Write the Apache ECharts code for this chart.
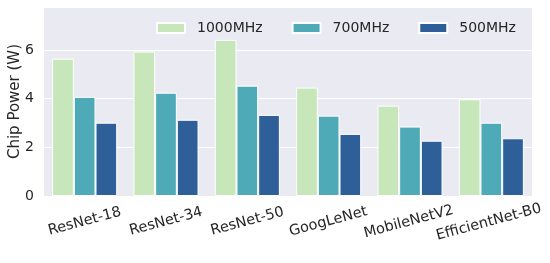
<!DOCTYPE html>
<html><head><meta charset="utf-8">
<script src="https://cdn.jsdelivr.net/npm/echarts@6/dist/echarts.min.js"></script>
<style>html,body{margin:0;padding:0;background:#fff}#c{width:550px;height:263px}</style>
</head><body><div id="c"></div>
<script>
const categories = ["ResNet-18","ResNet-34","ResNet-50","GoogLeNet","MobileNetV2","EfficientNet-B0"];
const seriesNames = ["1000MHz","700MHz","500MHz"];
const mhz1000 = [5.64, 5.93, 6.41, 4.45, 3.71, 3.97];
const mhz700 = [4.07, 4.24, 4.53, 3.30, 2.85, 3.01];
const mhz500 = [3.01, 3.13, 3.33, 2.55, 2.27, 2.37];
const yTicks = [0, 2, 4, 6];
const colors = ["#c7e6b9", "#4eaab6", "#2e5f99"];
const values = [mhz1000, mhz700, mhz500];

const font = "DejaVu Sans";
const labelSize = 14.5, rot = 15;
// emulate matplotlib's rotated-label placement: longer labels sit slightly lower
const mctx = document.createElement('canvas').getContext('2d');
mctx.font = labelSize + 'px "' + font + '"';
const widths = categories.map(c => mctx.measureText(c).width);
const wmin = Math.min.apply(null, widths);
const th = rot * Math.PI / 180;
const xData = categories.map((c, i) => {
  const dy = 0.3 * (widths[i] - wmin);
  return {value: c, textStyle: {align:'center', verticalAlign:'middle',
    padding: [2 * dy * Math.cos(th), 2 * dy * Math.sin(th), 0, 0]}};
});

const chart = echarts.init(document.getElementById('c'), null, {renderer:'canvas'});
chart.setOption({
  animation:false,
  textStyle:{fontFamily:font},
  grid:{left:44,right:18,top:7,bottom:67,show:true,backgroundColor:'#eaeaf2',borderWidth:0,
        containLabel:false, outerBoundsMode:'none'},
  legend:{
    data:seriesNames, left:151, top:16, itemWidth:28, itemHeight:10, itemGap:29,
    icon:'rect',
    textStyle:{fontFamily:font,fontSize:14,color:'#262626',padding:[0,0,0,7]}
  },
  xAxis:{
    type:'category', data:xData,
    axisLine:{show:false}, axisTick:{show:false},
    axisLabel:{rotate:rot, align:'center', verticalAlign:'middle', margin:25.5, fontSize:labelSize, color:'#262626', fontFamily:font, interval:0}
  },
  yAxis:{
    type:'value', min:0, max:7.76, interval:2,
    name:'Chip Power (W)', nameLocation:'middle', nameGap:21, nameMoveOverlap:false,
    nameTextStyle:{fontSize:15,color:'#262626',fontFamily:font},
    axisLine:{show:false}, axisTick:{show:false},
    axisLabel:{fontSize:14,color:'#262626',margin:10,fontFamily:font,
      formatter:v=> yTicks.includes(v) ? String(v) : ''},
    splitLine:{lineStyle:{color:'#ffffff',width:1}}
  },
  series: seriesNames.map((n,i)=>({
    name:n, type:'bar', data:values[i], barGap:'0%', barCategoryGap:'20%',
    itemStyle:{color:colors[i], borderColor:'#ffffff', borderWidth:1}
  }))
});
</script></body></html>
